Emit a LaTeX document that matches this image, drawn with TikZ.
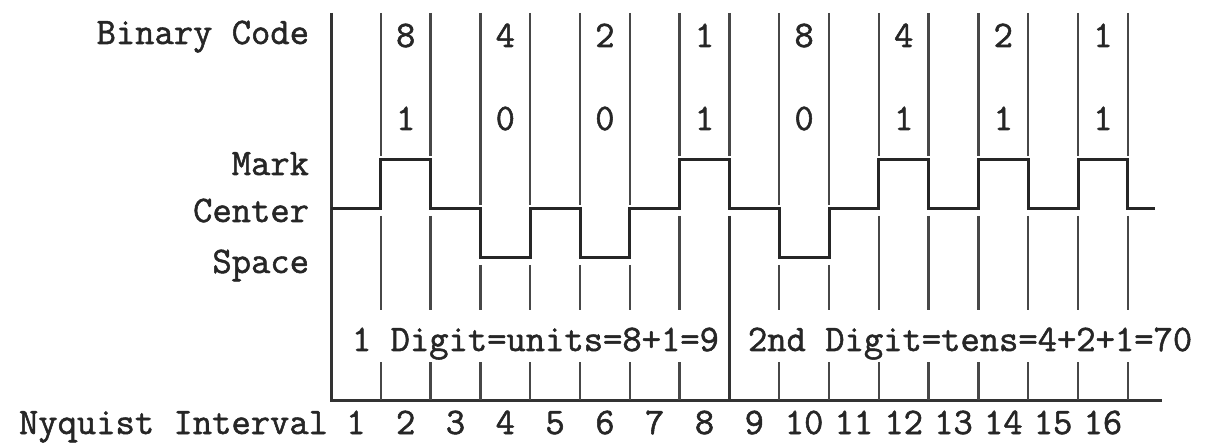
\documentclass[tikz,border=0pt]{standalone}
\usepackage{fontspec}
\newfontfamily\twfont{Latin Modern Mono}[FakeBold=1.4]
\begin{document}
\begin{tikzpicture}[x=1pt,y=-1pt,
  txt/.style={inner sep=0pt,outer sep=0pt,text=black!85,font=\twfont\fontsize{37.5}{40}\selectfont},
  grid/.style={draw=black!72,line width=2.4pt},
  frame/.style={draw=black!80,line width=3pt},
  wave/.style={draw=black!85,line width=3pt,line join=miter}]
\useasboundingbox[fill=white] (0,0) rectangle (1212,443);
\def\X#1{331+49.8*#1}
% frame: axis and baseline
\draw[frame] (331,13) -- (331,400) -- (1162,400);
% vertical interval lines
\foreach \i/\t/\b in {1/160/209,2/160/209,3/209/258,4/209/258,5/209/258,6/209/258,7/160/209,8/160/209,9/209/258,10/209/258,11/160/209,12/160/209,13/160/209,14/160/209,15/160/209,16/160/209}{
  \draw[grid] ({\X{\i}},13) -- ({\X{\i}},\t-4);
  \ifnum\i=8
    \draw[grid,draw=black!80,line width=2.8pt] ({\X{\i}},\b+7) -- ({\X{\i}},400);
  \else
    \draw[grid] ({\X{\i}},\b+7) -- ({\X{\i}},310);
    \draw[grid] ({\X{\i}},362) -- ({\X{\i}},400);
  \fi
}
% waveform
\def\C{209}\def\M{160}\def\S{258}
\draw[wave] (331,\C) -- ({\X{1}},\C) -- ({\X{1}},\M) -- ({\X{2}},\M) -- ({\X{2}},\C)
  -- ({\X{3}},\C) -- ({\X{3}},\S) -- ({\X{4}},\S) -- ({\X{4}},\C)
  -- ({\X{5}},\C) -- ({\X{5}},\S) -- ({\X{6}},\S) -- ({\X{6}},\C)
  -- ({\X{7}},\C) -- ({\X{7}},\M) -- ({\X{8}},\M) -- ({\X{8}},\C)
  -- ({\X{9}},\C) -- ({\X{9}},\S) -- ({\X{10}},\S) -- ({\X{10}},\C)
  -- ({\X{11}},\C) -- ({\X{11}},\M) -- ({\X{12}},\M) -- ({\X{12}},\C)
  -- ({\X{13}},\C) -- ({\X{13}},\M) -- ({\X{14}},\M) -- ({\X{14}},\C)
  -- ({\X{15}},\C) -- ({\X{15}},\M) -- ({\X{16}},\M) -- ({\X{16}},\C)
  -- (1155,\C);
% left labels
\node[txt,anchor=base east] (lbin) at (309,44) {Binary Code};
\node[txt,anchor=base east] (lmark) at (309,175) {Mark};
\node[txt,anchor=base east] (lcen) at (309,222) {Center};
\node[txt,anchor=base east] (lspa) at (309,273) {Space};
\node[txt,anchor=base east] (lnyq) at (328,434) {Nyquist Interval};
% binary weights and bits
\foreach \k/\w/\v in {2/8/1,4/4/0,6/2/0,8/1/1,10/8/0,12/4/1,14/2/1,16/1/1}{
  \node[txt,anchor=base] (w\k) at ({\X{\k}-24.9},47) {\w};
  \node[txt,anchor=base] (v\k) at ({\X{\k}-24.9},130) {\v};
}
% digit captions
\node[txt,anchor=base west] (d1) at (352,351) {1 Digit=units=8+1=9};
\node[txt,anchor=base west] (d2) at (748,351) {2nd Digit=tens=4+2+1=70};
% Nyquist interval numbers
\foreach \n in {1,...,16}{
  \node[txt,anchor=base] (n\n) at ({\X{\n}-24.9},434) {\n};
}
\end{tikzpicture}
\end{document}
